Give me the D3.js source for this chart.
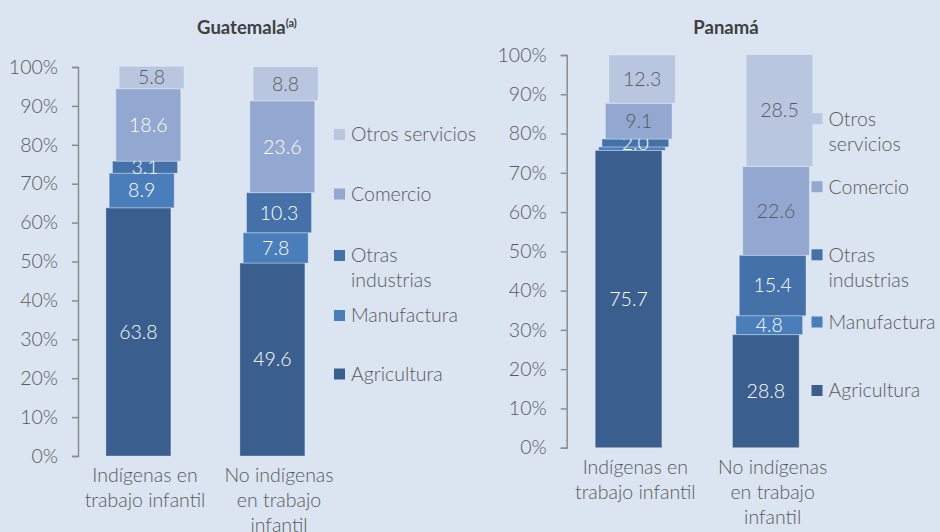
<!DOCTYPE html>
<html>
<head>
<meta charset="utf-8">
<script src="https://cdn.jsdelivr.net/npm/d3@7"></script>
<style>
  body { margin: 0; background: #dbe5f1; }
  svg { display: block; font-family: Lato, "Open Sans", sans-serif; }
</style>
</head>
<body>
<div id="chart"></div>
<script>
// sectors, bottom to top of each stack
var sectors = ["Agricultura", "Manufactura", "Otras industrias", "Comercio", "Otros servicios"];
var colors = ["#3a5f8e", "#4a7ebb", "#4571a9", "#93a8d0", "#b9c6e0"];

var categories = ["indigenas", "noIndigenas"];
var categoryLines = [["Indígenas en", "trabajo infantil"], ["No indígenas", "en trabajo", "infantil"]];

var guatemalaIndigenas = [63.8, 8.9, 3.1, 18.6, 5.8];
var guatemalaNoIndigenas = [49.6, 7.8, 10.3, 23.6, 8.8];
var panamaIndigenas = [75.7, 0.9, 2.0, 9.1, 12.3];
var panamaNoIndigenas = [28.8, 4.8, 15.4, 22.6, 28.5];

var yTicks = [0, 10, 20, 30, 40, 50, 60, 70, 80, 90, 100];

var width = 940, height = 532;
var fs = 19.5;

var svg = d3.select("#chart").append("svg")
    .attr("width", width)
    .attr("height", height);

svg.append("rect").attr("width", width).attr("height", height).attr("fill", "#dbe5f1");

var panels = [
  {title: "Guatemala", sup: "(a)", titleX: 247, titleY: 34,
   values: [guatemalaIndigenas, guatemalaNoIndigenas],
   axisX: 78, yTop: 67, yBottom: 456, step: 134, barW: 65, off: 3.3,
   darkLabels: 4, labelY: 482,
   legendX: 334, legendY: [374, 315.5, 255.5, 194, 134.5],
   legendText: [["Agricultura"], ["Manufactura"], ["Otras", "industrias"], ["Comercio"], ["Otros servicios"]]},
  {title: "Panamá", sup: "", titleX: 726, titleY: 34,
   values: [panamaIndigenas, panamaNoIndigenas],
   axisX: 566.7, yTop: 55, yBottom: 447.7, step: 137.3, barW: 66.7, off: 3.4,
   darkLabels: 3, labelY: 474,
   legendX: 811.5, legendY: [390.5, 322, 254.8, 186.7, 118.7],
   legendText: [["Agricultura"], ["Manufactura"], ["Otras", "industrias"], ["Comercio"], ["Otros", "servicios"]]}
];

panels.forEach(function(p) {
  var g = svg.append("g");

  var x = d3.scaleBand().domain(categories).range([p.axisX, p.axisX + 2 * p.step]);
  var y = d3.scaleLinear().domain([0, 100]).range([p.yBottom, p.yTop]);

  // title
  var t = g.append("text")
      .attr("x", p.titleX).attr("y", p.titleY)
      .attr("text-anchor", "middle")
      .attr("font-size", 18.5).attr("font-weight", "bold")
      .attr("fill", "#404040")
      .text(p.title);
  if (p.sup) {
    t.append("tspan").attr("font-size", 11).attr("dy", -7).text(p.sup);
  }

  // y axis
  var axis = d3.axisLeft(y).tickValues(yTicks).tickSize(6).tickPadding(14)
      .tickFormat(function(d) { return d + "%"; });
  var ax = g.append("g").attr("transform", "translate(" + p.axisX + ",0)").call(axis);
  ax.select(".domain").attr("stroke", "#8c8c8c").attr("stroke-width", 1.5);
  ax.selectAll(".tick line").attr("stroke", "#8c8c8c").attr("stroke-width", 1.5);
  ax.selectAll(".tick text").attr("fill", "#595959").attr("font-size", fs)
      .attr("font-family", "Lato, sans-serif").attr("font-weight", 300);

  // stacked data
  var rows = categories.map(function(c, ci) {
    var r = {cat: c};
    sectors.forEach(function(s, si) { r[s] = p.values[ci][si]; });
    return r;
  });
  var stack = d3.stack().keys(sectors)(rows);

  var span = p.barW + 4 * p.off;

  stack.forEach(function(layer, si) {
    var lg = g.append("g");
    lg.selectAll("rect").data(layer).enter().append("rect")
        .attr("x", function(d) { return x(d.data.cat) + x.bandwidth() / 2 - span / 2 + si * p.off; })
        .attr("y", function(d) { return y(d[1]); })
        .attr("width", p.barW)
        .attr("height", function(d) { return y(d[0]) - y(d[1]); })
        .attr("fill", colors[si])
        .attr("stroke", "#ffffff").attr("stroke-opacity", 0.3).attr("stroke-width", 1);

    lg.selectAll("text").data(layer.filter(function(d) { return d[1] - d[0] >= 1.5; })).enter().append("text")
        .attr("x", function(d) { return x(d.data.cat) + x.bandwidth() / 2 - span / 2 + si * p.off + p.barW / 2; })
        .attr("y", function(d) { return (y(d[0]) + y(d[1])) / 2; })
        .attr("dy", "0.35em")
        .attr("text-anchor", "middle")
        .attr("font-size", fs).attr("font-weight", 300)
        .attr("fill", si < p.darkLabels ? "#ffffff" : "#595959")
        .text(function(d) { return d3.format(".1f")(d[1] - d[0]); });
  });

  // category labels
  categories.forEach(function(c, ci) {
    var tx = g.append("text")
        .attr("x", x(c) + x.bandwidth() / 2)
        .attr("y", p.labelY)
        .attr("text-anchor", "middle")
        .attr("font-size", fs).attr("font-weight", 300)
        .attr("fill", "#595959");
    categoryLines[ci].forEach(function(line, li) {
      tx.append("tspan").attr("x", x(c) + x.bandwidth() / 2).attr("dy", li === 0 ? 0 : 25).text(line);
    });
  });

  // legend
  sectors.forEach(function(s, si) {
    var ly = p.legendY[si];
    g.append("rect")
        .attr("x", p.legendX).attr("y", ly - 5.5)
        .attr("width", 11).attr("height", 11)
        .attr("fill", colors[si]);
    var lt = g.append("text")
        .attr("x", p.legendX + 17).attr("y", ly)
        .attr("font-size", fs).attr("font-weight", 300)
        .attr("fill", "#595959");
    p.legendText[si].forEach(function(line, li) {
      lt.append("tspan").attr("x", p.legendX + 17).attr("dy", li === 0 ? "0.35em" : 25).text(line);
    });
  });
});
</script>
</body>
</html>
